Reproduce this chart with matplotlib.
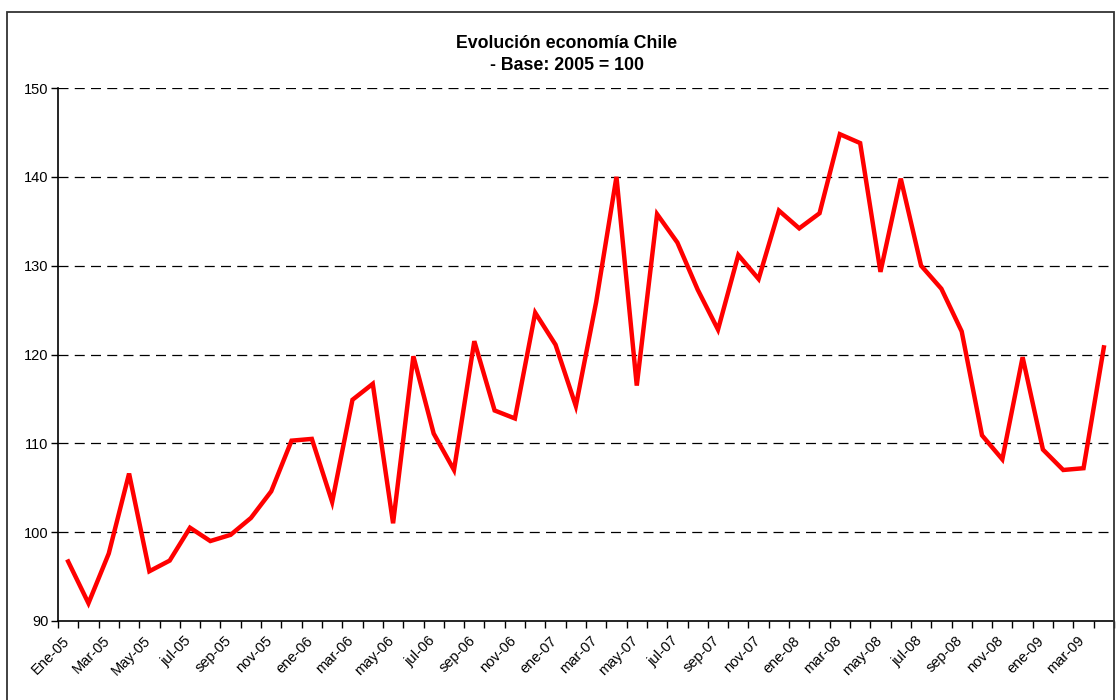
import numpy as np
import matplotlib.pyplot as plt
import matplotlib.transforms as mtransforms
from matplotlib.patches import Rectangle

# data
months = ['Ene-05', 'Feb-05', 'Mar-05', 'Abr-05', 'May-05', 'Jun-05', 'jul-05', 'ago-05', 'sep-05', 'oct-05', 'nov-05', 'dic-05',
          'ene-06', 'feb-06', 'mar-06', 'abr-06', 'may-06', 'jun-06', 'jul-06', 'ago-06', 'sep-06', 'oct-06', 'nov-06', 'dic-06',
          'ene-07', 'feb-07', 'mar-07', 'abr-07', 'may-07', 'jun-07', 'jul-07', 'ago-07', 'sep-07', 'oct-07', 'nov-07', 'dic-07',
          'ene-08', 'feb-08', 'mar-08', 'abr-08', 'may-08', 'jun-08', 'jul-08', 'ago-08', 'sep-08', 'oct-08', 'nov-08', 'dic-08',
          'ene-09', 'feb-09', 'mar-09', 'abr-09']
index_values = [96.7, 92.0, 97.6, 106.6, 95.6, 96.8, 100.5, 99.0, 99.7, 101.6, 104.6, 110.3,
                110.5, 103.4, 114.9, 116.7, 101.0, 119.8, 111.1, 107.0, 121.5, 113.7, 112.8, 124.7,
                121.1, 114.2, 125.9, 140.0, 116.5, 135.8, 132.6, 127.3, 122.8, 131.2, 128.5, 136.2,
                134.2, 135.9, 144.8, 143.8, 129.3, 139.8, 130.0, 127.4, 122.6, 110.9, 108.2, 119.7,
                109.3, 107.0, 107.2, 120.8]
y_ticks = [90, 100, 110, 120, 130, 140, 150]

plt.rcParams['font.family'] = 'Liberation Sans'

fig = plt.figure(figsize=(11.16, 7.0), dpi=100)
ax = fig.add_axes([58/1116, 1 - 621/700, (1114 - 58)/1116, (621 - 88)/700])

x = np.arange(len(index_values))
ax.plot(x, index_values, color='#ff0000', lw=3.2, solid_joinstyle='miter', zorder=3)

# axes
ax.set_xlim(-0.5, len(index_values) - 0.5)
ax.set_ylim(90, 150)
ax.set_yticks(y_ticks)
ax.tick_params(axis='y', length=5, width=1, labelsize=10.5, pad=2)
ax.set_xticks(x[::2])
ax.set_xticklabels(months[::2], rotation=45, ha='right', rotation_mode='anchor', fontsize=10.5)
ax.set_xticks(np.arange(len(index_values) + 1) - 0.5, minor=True)
ax.tick_params(axis='x', which='major', length=0, pad=9)
ax.tick_params(axis='x', which='minor', length=5, width=1)

# shift x labels a bit to the left, like the original
shift = mtransforms.ScaledTranslation(-6/100, 0, fig.dpi_scale_trans)
for lab in ax.get_xticklabels():
    lab.set_transform(lab.get_transform() + shift)

for yv in y_ticks[1:]:
    ax.axhline(yv, color='black', lw=0.9, ls=(0, (8, 5)), zorder=1)

for s in ['top', 'right']:
    ax.spines[s].set_visible(False)
for s in ['left', 'bottom']:
    ax.spines[s].set_linewidth(1.2)

# title
fig.text(567/1116, 1 - 43/700, 'Evolución economía Chile', ha='center', va='center', fontsize=12.8, fontweight='bold')
fig.text(567/1116, 1 - 66/700, '- Base: 2005 = 100', ha='center', va='center', fontsize=12.8, fontweight='bold')

# chart frame
fig.add_artist(Rectangle((7/1116, -0.05), (1114 - 7)/1116, 1.05 - 12/700, transform=fig.transFigure,
                         fill=False, edgecolor='#333333', lw=1.3))

plt.savefig('out.png', dpi=100)
